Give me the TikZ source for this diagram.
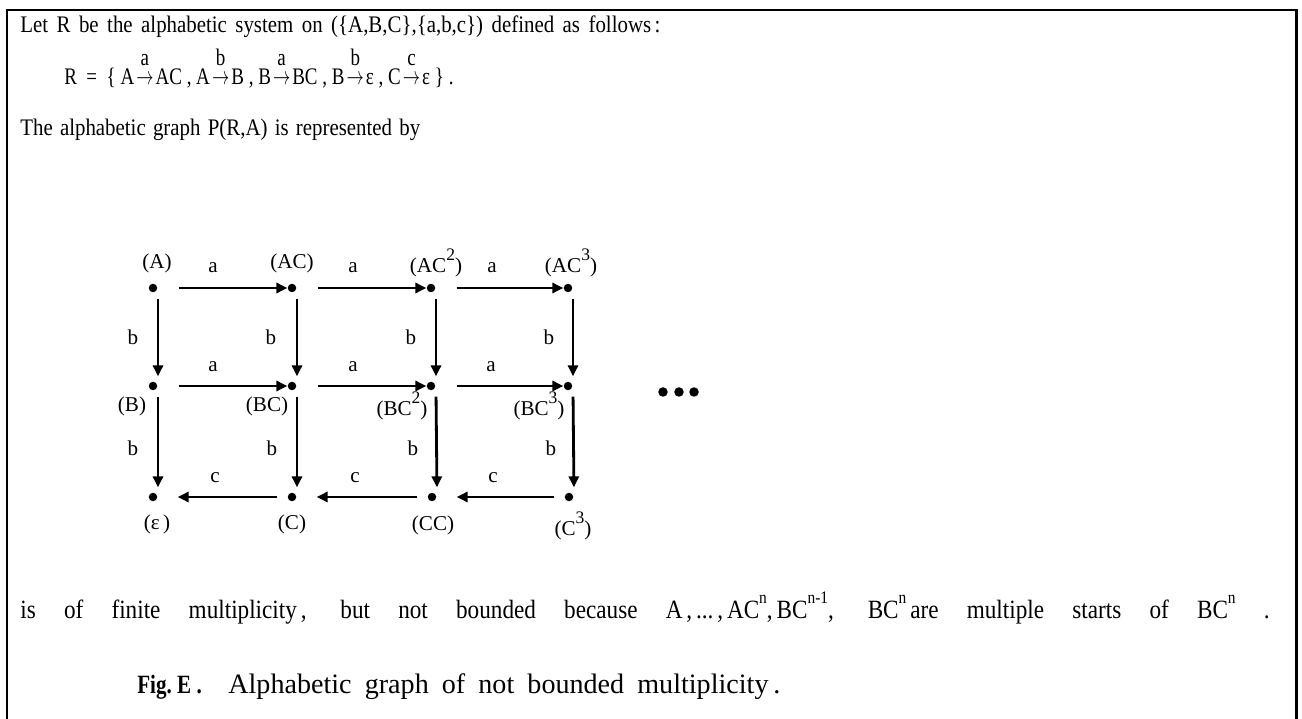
\documentclass[tikz,border=0pt]{standalone}
\usepackage{fontspec}
\setmainfont{Liberation Serif}
\usepackage{amsmath,graphicx}
\usetikzlibrary{arrows.meta,positioning}
\newcommand{\lto}[1]{\kern1.5pt\ensuremath{{\overset{\raisebox{3pt}{#1}}{\scalebox{0.85}[1]{$\rightarrow$}}}}\kern1.5pt}
\newcommand{\up}[1]{\raisebox{0.55em}{\fontsize{10}{10}\selectfont #1}}
\newcommand{\narrow}[1]{\scalebox{0.88}[1]{#1}}
\begin{document}
\begin{tikzpicture}[x=0.02cm,y=-0.02cm,
    dot/.style={circle,fill,inner sep=0pt,minimum size=0.17cm},
    arr/.style={-{Triangle[length=0.22cm,width=0.2cm]},line width=1.6pt},
    lbl/.style={inner sep=0pt,font=\fontsize{12}{14}\selectfont},
    txt/.style={inner sep=0pt,anchor=base west,font=\fontsize{13.5}{16}\selectfont}]
    \useasboundingbox (0,0) rectangle (1302,719);
    % frame
    \draw[line width=1.7pt] (7,719) -- (7,10) -- (1296,10) -- (1296,719);
    % text above the graph
    \node[txt] (l1) at (20,33) {\narrow{\makebox[14.55cm][s]{Let R be the alphabetic system on (\{A,B,C\},\{a,b,c\}) defined as follows\,:}}};
    \node[txt] (l2) at (64,85) {\scalebox{0.8}[1]{R\ \ =\ \ \{\ A\lto{a}AC\ ,\ A\lto{b}B\ ,\ B\lto{a}BC\ ,\ B\lto{b}ε\ ,\ C\lto{c}ε\ \}\ .}};
    \node[txt] (l3) at (20,136) {\narrow{\makebox[9.09cm][s]{The alphabetic graph P(R,A) is represented by}}};
    % states
    \node[dot] (A)   at (153,288) {};
    \node[dot] (AC)  at (292,288) {};
    \node[dot] (AC2) at (431,288) {};
    \node[dot] (AC3) at (568,288) {};
    \node[dot] (B)   at (153,386) {};
    \node[dot] (BC)  at (292,386) {};
    \node[dot] (BC2) at (431,386) {};
    \node[dot] (BC3) at (568,386) {};
    \node[dot] (E)   at (153,497) {};
    \node[dot] (C)   at (292,497) {};
    \node[dot] (CC)  at (432,497) {};
    \node[dot] (C3)  at (569,497) {};
    % state names
    \node[lbl] (nA)   at (157,263) {(A)};
    \node[lbl] (nAC)  at (292,263) {(AC)};
    \node[lbl] (nAC2) at (436,263) {(AC\up{2})};
    \node[lbl] (nAC3) at (571,263) {(AC\up{3})};
    \node[lbl] (nB)   at (132,406) {(B)};
    \node[lbl] (nBC)  at (267,406) {(BC)};
    \node[lbl] (nBC2) at (402,406) {(BC\up{2})};
    \node[lbl] (nBC3) at (539,406) {(BC\up{3})};
    \node[lbl] (nE)   at (157,524) {(ε\,)};
    \node[lbl] (nC)   at (292,524) {(C)};
    \node[lbl] (nCC)  at (433,525) {(CC)};
    \node[lbl] (nC3)  at (573,526) {(C\up{3})};
    % transitions
    \draw[arr,shorten <=0.42cm] (A) -- (AC);
    \draw[arr,shorten <=0.42cm] (AC) -- (AC2);
    \draw[arr,shorten <=0.42cm] (AC2) -- (AC3);
    \draw[arr,shorten <=0.42cm] (B) -- (BC);
    \draw[arr,shorten <=0.42cm] (BC) -- (BC2);
    \draw[arr,shorten <=0.42cm] (BC2) -- (BC3);
    \draw[arr,shorten <=0.12cm,shorten >=0.1cm] ([xshift=0.1cm]A.south) -- ([xshift=0.1cm]B.north);
    \draw[arr,shorten <=0.12cm,shorten >=0.1cm] ([xshift=0.1cm]AC.south) -- ([xshift=0.1cm]BC.north);
    \draw[arr,shorten <=0.12cm,shorten >=0.1cm] ([xshift=0.1cm]AC2.south) -- ([xshift=0.1cm]BC2.north);
    \draw[arr,shorten <=0.12cm,shorten >=0.1cm] ([xshift=0.1cm]AC3.south) -- ([xshift=0.1cm]BC3.north);
    \draw[arr,shorten <=0.12cm,shorten >=0.1cm] ([xshift=0.1cm]B.south) -- ([xshift=0.1cm]E.north);
    \draw[arr,shorten <=0.12cm,shorten >=0.1cm] ([xshift=0.1cm]BC.south) -- ([xshift=0.1cm]C.north);
    \draw[arr,shorten <=0.12cm,shorten >=0.1cm] ([xshift=0.1cm]BC2.south) -- ([xshift=0.1cm]CC.north);
    \draw[arr,shorten <=0.12cm,shorten >=0.1cm] ([xshift=0.1cm]BC3.south) -- ([xshift=0.1cm]C3.north);
    \draw[arr,shorten <=0.2cm,shorten >=0.4cm] (C3) -- (CC);
    \draw[arr,shorten <=0.2cm,shorten >=0.4cm] (CC) -- (C);
    \draw[arr,shorten <=0.2cm,shorten >=0.4cm] (C) -- (E);
    % letters
    \node[lbl] (a1) at (213,268) {a};
    \node[lbl] (a2) at (353,268) {a};
    \node[lbl] (a3) at (492,268) {a};
    \node[lbl] (a4) at (213,367) {a};
    \node[lbl] (a5) at (353,367) {a};
    \node[lbl] (a6) at (491,367) {a};
    \node[lbl] (b1) at (133,337) {b};
    \node[lbl] (b2) at (271,337) {b};
    \node[lbl] (b3) at (411,337) {b};
    \node[lbl] (b4) at (549,337) {b};
    \node[lbl] (b5) at (133,448) {b};
    \node[lbl] (b6) at (272,448) {b};
    \node[lbl] (b7) at (413,448) {b};
    \node[lbl] (b8) at (551,448) {b};
    \node[lbl] (c1) at (215,478) {c};
    \node[lbl] (c2) at (355,478) {c};
    \node[lbl] (c3) at (493,478) {c};
    % more states
    \foreach \i/\x in {1/663,2/679,3/694}
        \node[dot,minimum size=0.19cm] (more\i) at (\x,392) {};
    % text below the graph
    \node[txt,font=\fontsize{15}{18}\selectfont] (l4) at (20,618) {\narrow{\makebox[28.4cm][s]{is of finite multiplicity\,, but not bounded because A\,,\,...\,,\,AC\up{n},\,BC\up{n-1}, BC\up{n}\,are multiple starts of BC\up{n} .}}};
    \node[txt,font=\bfseries\fontsize{15}{18}\selectfont] (fig) at (137,693) {\scalebox{0.8}[1]{Fig.\ E\ .}};
    \node[txt,font=\fontsize{16}{19}\selectfont] (cap) at (228,693) {\makebox[11.04cm][s]{Alphabetic graph of not bounded multiplicity\,.}};
\end{tikzpicture}
\end{document}
